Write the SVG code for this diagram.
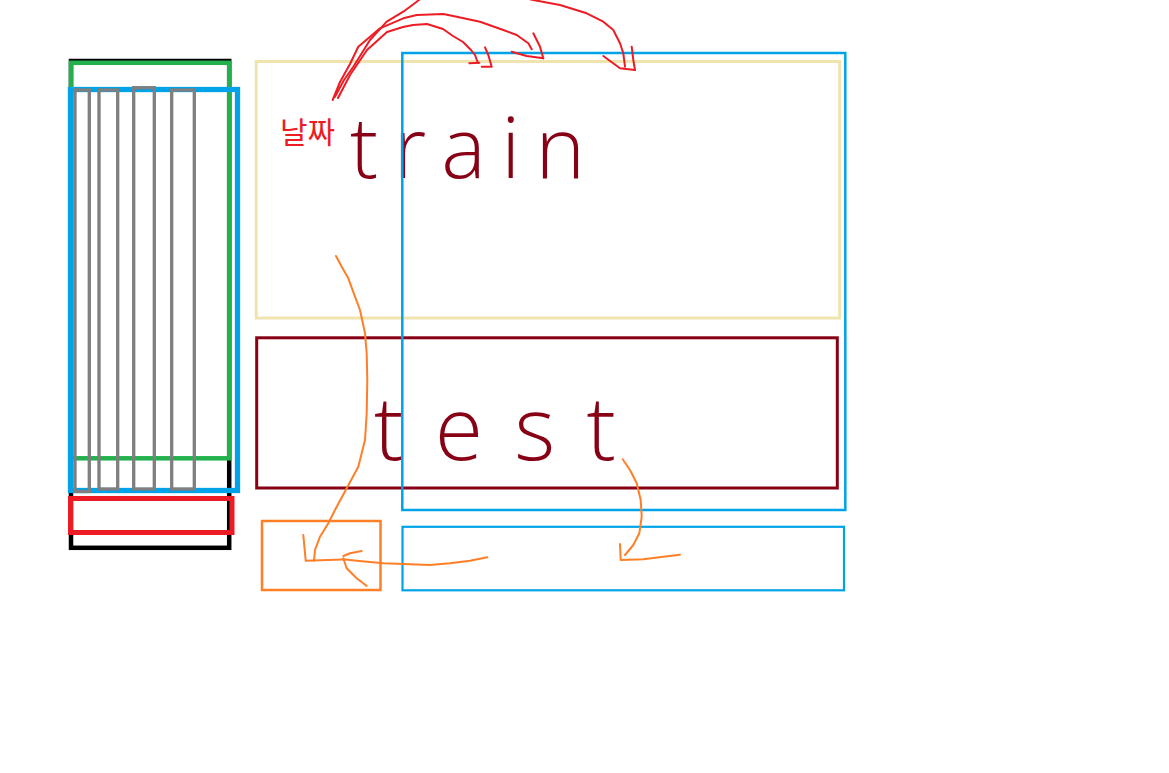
<svg xmlns="http://www.w3.org/2000/svg" width="1169" height="773" viewBox="0 0 1169 773">
<style>
  .box{fill:none}
  .ink{fill:none;stroke-linejoin:round;stroke-linecap:round}
  .red{stroke:#ed1c24;stroke-width:2}
  .org{stroke:#ff7f27;stroke-width:2}
  .gray{fill:none;stroke:#7f7f7f;stroke-width:3.3}
  .hand{font-family:"Open Sans","Liberation Sans",sans-serif;font-weight:300;fill:#880015}
</style>
<rect width="1169" height="773" fill="#ffffff"/>
<g id="column">
  <rect id="col-black" class="box" x="71" y="61" width="158.2" height="486.8" stroke="#000000" stroke-width="4.5"/>
  <rect id="col-green" class="box" x="71" y="62.8" width="158.2" height="395.5" stroke="#22b14c" stroke-width="4.5"/>
  <rect id="col-blue" class="box" x="70.5" y="89.5" width="167" height="401" stroke="#00a2e8" stroke-width="5.3"/>
  <rect id="col-red" class="box" x="70.5" y="498.5" width="161.5" height="34" stroke="#ed1c24" stroke-width="5"/>
  <rect id="col-gray1" class="gray" x="75" y="90" width="14.3" height="401.5"/>
  <rect id="col-gray2" class="gray" x="99" y="90" width="18.7" height="399"/>
  <rect id="col-gray3" class="gray" x="133.7" y="87.7" width="20.6" height="401.3"/>
  <rect id="col-gray4" class="gray" x="171.7" y="90" width="22.6" height="399"/>
</g>
<g id="train-box">
  <rect class="box" x="256.2" y="61.5" width="583.5" height="256.5" stroke="#efe4b0" stroke-width="3"/>
  <text class="hand" x="350" y="178" font-size="84" textLength="235" lengthAdjust="spacing">train</text>
</g>
<g id="test-box">
  <rect class="box" x="256.7" y="337.8" width="580.6" height="150.2" stroke="#880015" stroke-width="3"/>
  <text class="hand" x="374" y="460" font-size="88" textLength="242" lengthAdjust="spacing">test</text>
</g>
<g id="window-box">
  <rect class="box" x="402.3" y="53" width="443" height="457" stroke="#00a2e8" stroke-width="2.5"/>
</g>
<g id="predict-box">
  <rect class="box" x="402.5" y="526.8" width="441.5" height="63.5" stroke="#00a2e8" stroke-width="2.2"/>
</g>
<g id="output-box">
  <rect class="box" x="262" y="521" width="118.5" height="69" stroke="#ff7f27" stroke-width="2.5"/>
</g>
<g id="date-label">
  <text x="280" y="143" font-size="30" fill="#ed1c24" font-family="'Noto Sans CJK KR',sans-serif">날짜</text>
</g>
<g id="connectors">
  <polyline class="ink red" points="338,98 350,75 367,50 387,32 403,27 413,25 427,24 443,29 453,36 463,42 471,50 475,55 478,63"/>
  <polyline class="ink red" points="469.3,63.3 479.3,62.7"/>
  <polyline class="ink red" points="485,47.3 488.3,55 491.7,66.7 481.7,66.7"/>
  <polyline class="ink red" points="332.7,100 340,82 350,64 358.3,46.7 380,28.3 403.3,18.3 416.7,15 443.3,14 456.7,16.7 480,21.7 503.3,30 516.7,35 528.3,43.3 531.7,49.3"/>
  <polyline class="ink red" points="511.7,51.7 526.7,56 543.3,58.3"/>
  <polyline class="ink red" points="533.3,33.3 536.7,40 540,46.7 543.3,58.3"/>
  <polyline class="ink red" points="335,96.7 344,80 353.3,66.7 370,40 386.7,21.7 403.3,11.7 416.7,1.7 425,-5"/>
  <polyline class="ink red" points="520,-3 533.3,0 560,5 586.7,13.3 603.3,21.7 613.3,30 620,43.3 623.3,53.3 625,66.7"/>
  <polyline class="ink red" points="603.3,56 620,68.3 635,70"/>
  <polyline class="ink red" points="631.7,46.7 633.3,60 635,70"/>
  <polyline class="ink org" points="336,256 341.7,266.7 348.3,278.3 355,296.7 360,310 365,333.3 366.7,353.3 367.3,380 366.7,413.3 365,440 358.3,466.7 346.7,488.3 336.7,506.7 328.3,523.3 320,536.7 315,550 314,560.7"/>
  <polyline class="ink org" points="303.3,535 305.7,560.7 343,559.5"/>
  <polyline class="ink org" points="487.3,557.3 470,560.7 450,563.3 430,565 383.3,563.3 356.7,560.7 343,559.3"/>
  <polyline class="ink org" points="361.7,551 350,553.3 343.3,556"/>
  <polyline class="ink org" points="343.3,558.3 346.7,568.3 356.7,578.3 366.7,586"/>
  <polyline class="ink org" points="622.7,459.3 630,470 636.7,483.3 640.7,500 641.7,516.7 639.3,533.3 633.3,545 625,555"/>
  <polyline class="ink org" points="620,544 620.7,560 643.3,559.3 663.3,556.7 680,554.7"/>
</g>
</svg>
